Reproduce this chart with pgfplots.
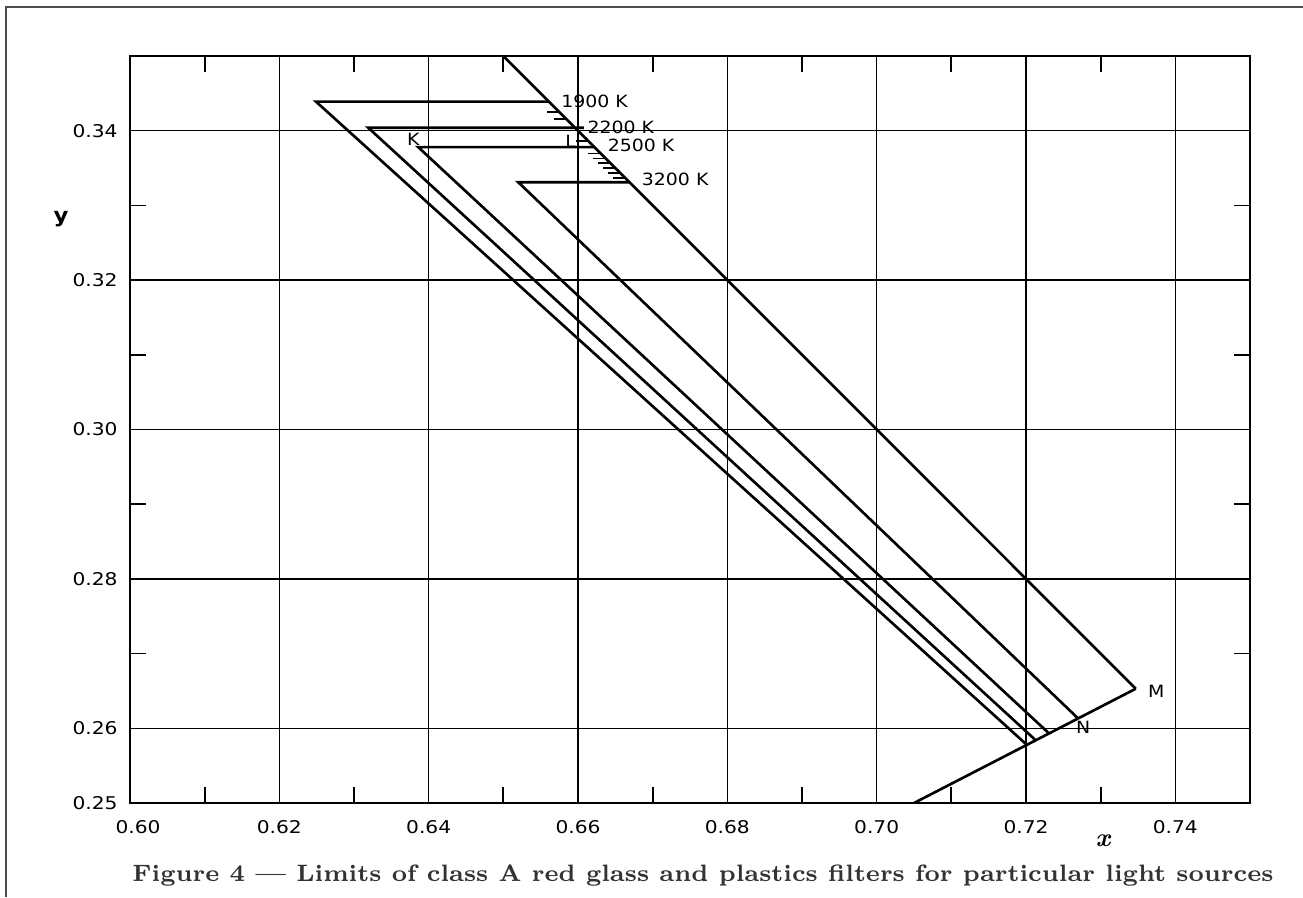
\documentclass[border=0pt]{standalone}
\usepackage{fontspec}
\usepackage{pgfplots}
\pgfplotsset{compat=1.18}
\newfontfamily\tickfont[FakeStretch=1.15]{DejaVu Sans}
\newfontfamily\labfont[FakeStretch=1.12]{DejaVu Sans}
\newcommand\lab{\labfont\fontsize{4.8}{5}\selectfont}
\begin{document}
\begin{tikzpicture}
\path[use as bounding box] (0,0) rectangle (13.03cm,8.97cm);
% page frame
\draw[black!70, line width=0.6pt] (13.03cm,8.897cm) -- (0.06cm,8.897cm) -- (0.06cm,0cm);
\begin{axis}[
  at={(1.30cm,0.94cm)}, anchor=south west,
  width=11.20cm, height=7.47cm, scale only axis,
  xmin=0.60, xmax=0.75, ymin=0.25, ymax=0.35,
  xtick={0.60,0.62,0.64,0.66,0.68,0.70,0.72,0.74},
  xticklabels={{\hspace{1.6mm}0.60},0.62,0.64,0.66,0.68,0.70,0.72,0.74},
  ytick={0.25,0.26,0.28,0.30,0.32,0.34},
  yticklabels={0.25,0.26,0.28,0.30,0.32,0.34},
  minor xtick={0.61,0.63,0.65,0.67,0.69,0.71,0.73},
  minor ytick={0.27,0.29,0.31,0.33},
  grid=major,
  major grid style={black, line width=0.42pt},
  major tick length=0pt,
  minor tick length=1.6mm,
  minor tick style={black, line width=0.5pt},
  tick align=inside,
  axis line style={black, line width=0.6pt},
  tick label style={font=\tickfont\fontsize{5.0}{5.5}\selectfont},
  xticklabel style={yshift=-0.5mm},
  lim/.style={black, solid, line width=0.75pt, no markers, line join=miter},
]
% spectral locus
\addplot[lim] coordinates {(0.650,0.350) (0.7347,0.2653)};
% purple boundary
\addplot[lim] coordinates {(0.7347,0.2653) (0.7050,0.2500)};
% limits for the light sources
\addplot[lim] coordinates {(0.6561,0.3439) (0.6249,0.3439) (0.7201,0.2578)}; % 1900 K
\addplot[lim] coordinates {(0.6608,0.3404) (0.6319,0.3404) (0.7213,0.2584)}; % 2200 K
\addplot[lim] coordinates {(0.6622,0.3378) (0.6386,0.3378) (0.7231,0.2593)}; % 2500 K
\addplot[lim] coordinates {(0.6669,0.3331) (0.6520,0.3331) (0.7270,0.2613)}; % 3200 K
% hatching along the locus
\addplot[lim, line width=0.5pt, unbounded coords=jump] coordinates {
  (0.65585,0.34248) (0.65752,0.34248) (nan,nan)
  (0.65672,0.34158) (0.65842,0.34158) (nan,nan)
  (0.65970,0.33860) (0.66140,0.33860) (nan,nan)
  (0.66136,0.33694) (0.66306,0.33694) (nan,nan)
  (0.66203,0.33627) (0.66373,0.33627) (nan,nan)
  (0.66266,0.33564) (0.66436,0.33564) (nan,nan)
  (0.66333,0.33497) (0.66503,0.33497) (nan,nan)
  (0.66400,0.33430) (0.66570,0.33430) (nan,nan)
  (0.66463,0.33367) (0.66633,0.33367)
};
\node[anchor=west, font=\lab] at (axis cs:0.6561,0.3439) {1900 K};
\node[anchor=west, font=\lab, inner sep=0.3mm] at (axis cs:0.6608,0.3404) {2200 K};
\node[anchor=west, font=\lab, xshift=0.1mm, yshift=0.15mm] at (axis cs:0.6622,0.3378) {2500 K};
\node[anchor=west, font=\lab, yshift=0.25mm] at (axis cs:0.6669,0.3331) {3200 K};
\node[font=\lab, xshift=-0.5mm, yshift=0.8mm] at (axis cs:0.6386,0.3378) {K};
\node[font=\lab] at (axis cs:0.6590,0.3386) {L};
\node[anchor=west, font=\lab, yshift=-0.3mm] at (axis cs:0.7347,0.2653) {M};
\node[font=\lab, xshift=0.5mm, yshift=-0.9mm] at (axis cs:0.7270,0.2613) {N};
\end{axis}
\node at (11.03cm,0.56cm) {\fontsize{7.4}{8}\selectfont\bfseries\itshape x};
\node at (0.61cm,6.775cm) {\labfont\fontsize{5.8}{6}\selectfont\bfseries y};
\node[anchor=base, text=black!80] at (7.03cm,0.153cm)
  {\fontsize{6.75}{8}\selectfont\bfseries Figure 4 — Limits of class A red glass and plastics filters for particular light sources};
\end{tikzpicture}
\end{document}
